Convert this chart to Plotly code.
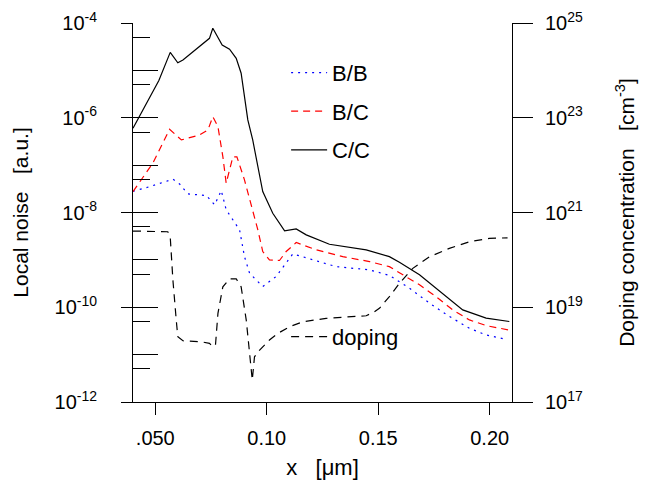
import plotly.graph_objects as go

# ---- data ----
x_bb = [0.0400, 0.0474, 0.0579, 0.0609, 0.0646, 0.0729, 0.0766, 0.0796, 0.0818, 0.0878,
        0.0900, 0.0923, 0.0982, 0.1042, 0.1117, 0.1206, 0.1311, 0.1461, 0.1550, 0.1640,
        0.1730, 0.1819, 0.1909, 0.1984, 0.2073]
noise_bb = [2.8e-8, 3.5e-8, 5.05e-8, 4.0e-8, 2.47e-8, 2.28e-8, 1.45e-8, 2.9e-8, 1.14e-8, 4.3e-9,
            1.17e-9, 5.2e-10, 2.74e-10, 4.45e-10, 1.34e-9, 1.0e-9, 7.2e-10, 6.15e-10, 4.7e-10, 2.53e-10,
            1.22e-10, 6.4e-11, 3.6e-11, 2.6e-11, 2.1e-11]

x_bc = [0.0400, 0.0489, 0.0564, 0.0617, 0.0699, 0.0736, 0.0758, 0.0781, 0.0803, 0.0818,
        0.0848, 0.0866, 0.0900, 0.0945, 0.0960, 0.0982, 0.1012, 0.1057, 0.1087, 0.1132,
        0.1222, 0.1341, 0.1461, 0.1550, 0.1610, 0.1685, 0.1759, 0.1834, 0.1909, 0.1984, 0.2088]
noise_bc = [2.76e-8, 1.10e-7, 5.71e-7, 3.40e-7, 4.34e-7, 5.53e-7, 1.05e-6, 6.49e-7, 1.51e-7, 4.15e-8,
            1.5e-7, 1.5e-7, 4.88e-8, 8.2e-9, 4.3e-9, 1.5e-9, 1.0e-9, 9.7e-10, 1.5e-9, 2.32e-9,
            1.63e-9, 1.17e-9, 9.2e-10, 7.2e-10, 4.83e-10, 2.97e-10, 1.68e-10, 8.8e-11, 5.4e-11, 4.1e-11, 3.3e-11]

x_cc = [0.0400, 0.0516, 0.0567, 0.0601, 0.0624, 0.0743, 0.0758, 0.0776, 0.0800, 0.0833,
        0.0863, 0.0885, 0.0900, 0.0915, 0.0937, 0.0960, 0.0982, 0.1027, 0.1080, 0.1132,
        0.1177, 0.1281, 0.1446, 0.1550, 0.1595, 0.1685, 0.1789, 0.1879, 0.1984, 0.2088]
noise_cc = [6.0e-7, 6.1e-6, 2.4e-5, 1.45e-5, 1.66e-5, 4.75e-5, 7.73e-5, 5.58e-5, 3.44e-5, 2.79e-5,
            1.80e-5, 8.69e-6, 2.79e-6, 9.0e-7, 3.4e-7, 9.3e-8, 2.76e-8, 9.66e-9, 4.09e-9, 4.51e-9,
            3.37e-9, 2.14e-9, 1.63e-9, 1.17e-9, 8.9e-10, 4.83e-10, 1.98e-10, 8.8e-11, 5.9e-11, 5.0e-11]

x_dop = [0.0400, 0.0556, 0.0567, 0.0579, 0.0594, 0.0601, 0.0624, 0.0706, 0.0743, 0.0758,
         0.0770, 0.0781, 0.0803, 0.0833, 0.0863, 0.0885, 0.0908, 0.0923, 0.0935, 0.0945,
         0.0968, 0.1012, 0.1050, 0.1102, 0.1162, 0.1266, 0.1386, 0.1446, 0.1483, 0.1505,
         0.1550, 0.1595, 0.1655, 0.1729, 0.1819, 0.1909, 0.1998, 0.2080]
doping = [4.06e20, 3.92e20, 3.07e20, 3.75e19, 5.37e18, 2.39e18, 1.96e18, 1.87e18, 1.73e18, 1.47e18,
          1.60e18, 7.43e18, 2.70e19, 3.99e19, 3.99e19, 2.70e19, 5.37e18, 1.06e18, 2.91e17, 9.0e17,
          1.25e18, 2.03e18, 2.81e18, 3.88e18, 4.94e18, 5.83e18, 6.31e18, 6.62e18, 8.04e18, 9.48e18,
          1.67e19, 3.19e19, 6.62e19, 1.16e20, 1.75e20, 2.41e20, 2.84e20, 2.92e20]

x_ticks = [0.05, 0.10, 0.15, 0.20]
x_ticktext = [".050", "0.10", "0.15", "0.20"]
noise_major = [1e-4, 1e-6, 1e-8, 1e-10, 1e-12]
noise_major_text = ["10<sup>-4</sup>", "10<sup>-6</sup>", "10<sup>-8</sup>", "10<sup>-10</sup>", "10<sup>-12</sup>"]
noise_decades = [1e-4, 1e-5, 1e-6, 1e-7, 1e-8, 1e-9, 1e-10, 1e-11, 1e-12]
noise_halves = [5e-5, 5e-6, 5e-7, 5e-8, 5e-9, 5e-10, 5e-11, 5e-12]
dop_major = [1e17, 1e19, 1e21, 1e23, 1e25]
dop_major_text = ["10<sup>17</sup>", "10<sup>19</sup>", "10<sup>21</sup>", "10<sup>23</sup>", "10<sup>25</sup>"]

FONT = "Liberation Sans, Arial, Helvetica, sans-serif"
NB = "\u00a0"
fig = go.Figure()

fig.add_trace(go.Scatter(x=x_bb, y=noise_bb, mode="lines", name="B/B", legendgroup="a",
                         line=dict(color="#0000ff", width=1.2, dash="2px,5px")))
fig.add_trace(go.Scatter(x=x_bc, y=noise_bc, mode="lines", name="B/C", legendgroup="b",
                         line=dict(color="#ff0000", width=1.2, dash="7px,5px")))
fig.add_trace(go.Scatter(x=x_cc, y=noise_cc, mode="lines", name="C/C", legendgroup="c",
                         line=dict(color="#000000", width=1.2)))
fig.add_trace(go.Scatter(x=x_dop, y=doping, mode="lines", name="doping", yaxis="y2",
                         legend="legend2",
                         line=dict(color="#000000", width=1.2, dash="8px,6px")))
# helper trace so that the extra tick-only axis is drawn
fig.add_trace(go.Scatter(x=[None], y=[None], yaxis="y3", showlegend=False, hoverinfo="skip"))

# page body has an 8px margin: figure is 643x482 drawn at (8,8)
fig.update_layout(
    width=643, height=482,
    margin=dict(l=125, r=139, t=15, b=88, autoexpand=False),
    paper_bgcolor="white", plot_bgcolor="white",
    font=dict(family=FONT, size=20, color="black"),
    showlegend=True,
    legend=dict(x=0.404, y=0.924, xanchor="left", yanchor="top",
                bgcolor="rgba(0,0,0,0)", font=dict(size=22), itemwidth=36,
                traceorder="grouped", tracegroupgap=7),
    legend2=dict(x=0.404, y=0.172, xanchor="left", yanchor="middle",
                 bgcolor="rgba(0,0,0,0)", font=dict(size=22), itemwidth=36),
    xaxis=dict(range=[0.04, 0.21], tickvals=x_ticks, ticktext=x_ticktext, automargin=False,
               ticks="outside", ticklen=12, tickwidth=1, tickcolor="black",
               showline=True, linecolor="black", linewidth=1, showgrid=False, zeroline=False,
               ticklabelstandoff=6,
               title=dict(text="x" + NB * 3 + "[μm]" + NB * 4, font=dict(size=22), standoff=11)),
    yaxis=dict(type="log", range=[-12, -4], tickvals=noise_major, ticktext=noise_major_text,
               automargin=False,
               ticks="outside", ticklen=11, tickwidth=1, tickcolor="black",
               minor=dict(tickmode="array", tickvals=noise_halves, ticks="inside", ticklen=17,
                          tickcolor="black", tickwidth=1, showgrid=False),
               showline=True, linecolor="black", linewidth=1, showgrid=False, zeroline=False,
               ticklabelstandoff=20,
               title=dict(text="Local noise" + NB * 2 + " [a.u.]" + NB * 3, font=dict(size=21), standoff=20)),
    yaxis3=dict(type="log", range=[-12, -4], overlaying="y", side="left", anchor="x",
                automargin=False, tickmode="array",
                tickvals=noise_decades, ticks="inside", ticklen=25, tickwidth=1, tickcolor="black",
                showticklabels=False, showline=False, showgrid=False, zeroline=False),
    yaxis2=dict(type="log", range=[17, 25], overlaying="y", side="right", anchor="x",
                automargin=False,
                tickvals=dop_major, ticktext=dop_major_text,
                ticks="outside", ticklen=20, tickwidth=1, tickcolor="black",
                showline=True, linecolor="black", linewidth=1, showgrid=False, zeroline=False,
                ticklabelstandoff=8,
                title=dict(text="Doping concentration" + NB * 2 + " [cm<sup>-3</sup>]" + NB * 5,
                           font=dict(size=21), standoff=37)),
)

fig.write_html("out.html")
